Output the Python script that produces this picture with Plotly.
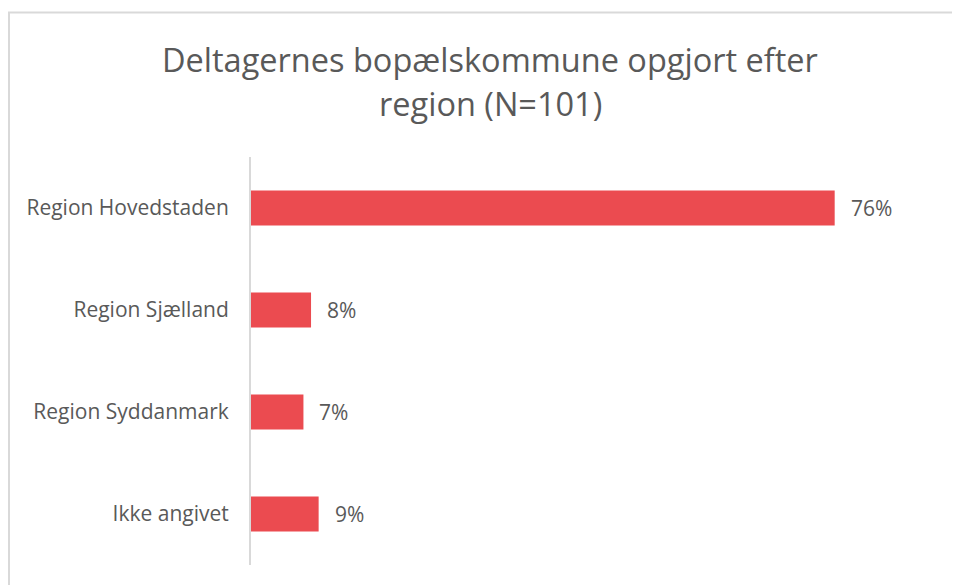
import plotly.graph_objects as go

categories = ["Region Hovedstaden", "Region Sjælland", "Region Syddanmark", "Ikke angivet"]
values = [0.768, 0.079, 0.069, 0.089]
labels = ["76%", "8%", "7%", "9%"]
title_lines = ["Deltagernes bopælskommune opgjort efter", "region (N=101)"]

OFF = 8  # page body margin
W, H = 960 - OFF, 585 - OFF
L = 251 - OFF
T = 157 - OFF
R = W - (935 - OFF)
B = H - (565 - OFF)
pw, ph = W - L - R, H - T - B


def px(x):
    return ((x - OFF) - L) / pw


def py(y):
    return 1 - ((y - OFF) - T) / ph


font = "Open Sans"
grey = "#595959"

fig = go.Figure(go.Bar(
    y=categories, x=values, orientation="h",
    marker=dict(color="#EB4B50", line=dict(width=0)),
    width=0.345,
    hoverinfo="x+y",
))

annotations = [
    dict(text=t, x=v, y=c, xref="x", yref="y", xanchor="left", yanchor="middle",
         xshift=14, showarrow=False, font=dict(family=font, size=21, color=grey))
    for c, v, t in zip(categories, values, labels)
]
annotations += [
    dict(text=title_lines[0], xref="paper", yref="paper", x=px(490), y=py(60),
         xanchor="center", yanchor="middle", showarrow=False,
         font=dict(family=font, size=32.5, color=grey)),
    dict(text=title_lines[1], xref="paper", yref="paper", x=px(490), y=py(103),
         xanchor="center", yanchor="middle", showarrow=False,
         font=dict(family=font, size=32.5, color=grey)),
]

fig.update_layout(
    width=W, height=H,
    margin=dict(l=L, r=R, t=T, b=B, pad=0),
    paper_bgcolor="white", plot_bgcolor="white",
    showlegend=False,
    xaxis=dict(range=[0, 0.9], visible=False),
    yaxis=dict(autorange="reversed", showline=True, linecolor="#D9D9D9", linewidth=2,
               ticks="", ticklabelstandoff=16, showgrid=False, zeroline=False,
               tickfont=dict(family=font, size=21, color=grey)),
    annotations=annotations,
    shapes=[dict(type="rect", xref="paper", yref="paper",
                 x0=px(9), x1=px(985), y0=py(610), y1=py(12.5),
                 line=dict(color="#D9D9D9", width=2), fillcolor="rgba(0,0,0,0)", layer="below")],
)

fig.write_html("out.html")
